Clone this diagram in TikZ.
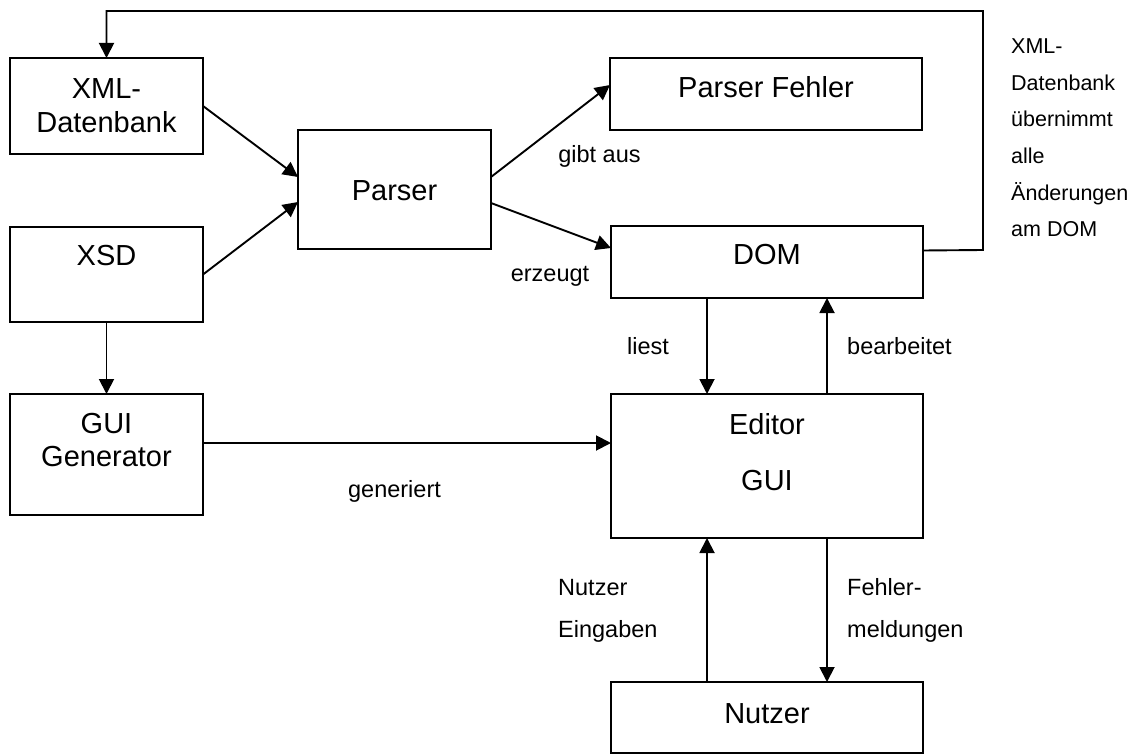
\documentclass[tikz,border=0pt]{standalone}
\usepackage{fontspec}
\setmainfont{Liberation Sans}
\usetikzlibrary{arrows.meta}
\begin{document}
\begin{tikzpicture}[x=1pt,y=-1pt,
  box/.style={draw, line width=1.9pt, inner sep=0pt, outer sep=0pt},
  maintxt/.style={inner sep=0pt, font=\fontsize{29}{34}\selectfont, text height=21pt, text depth=0pt},
  lbl/.style={inner sep=0pt, font=\fontsize{23.5}{28}\selectfont, text height=16.8pt, text depth=0pt},
  side/.style={inner sep=0pt, font=\fontsize{21.5}{26}\selectfont, text height=15.5pt, text depth=0pt, anchor=west},
  conn/.style={line width=1.9pt, -{Triangle[length=15pt,width=15pt]}},
]
\useasboundingbox[fill=white] (0,0) rectangle (1141,754);

% boxes
\node[box, minimum width=193pt, minimum height=96pt]  (xml)    at (106.5,106)   {};
\node[box, minimum width=193pt, minimum height=95pt]  (xsd)    at (106.5,274.5) {};
\node[box, minimum width=193pt, minimum height=121pt] (gui)    at (106.5,454.5) {};
\node[box, minimum width=193pt, minimum height=119pt] (parser) at (394.5,189.5) {};
\node[box, minimum width=312pt, minimum height=72pt]  (fehler) at (766,94)      {};
\node[box, minimum width=312pt, minimum height=72pt]  (dom)    at (767,262)     {};
\node[box, minimum width=312pt, minimum height=144pt] (editor) at (767,466)     {};
\node[box, minimum width=312pt, minimum height=71pt]  (nutzer) at (767,717.5)   {};

% box texts
\node[maintxt] (txml1) at (106.5,88)  {XML-};
\node[maintxt] (txml2) at (106.5,122) {Datenbank};
\node[maintxt] (txsd)  at (106.5,255) {XSD};
\node[maintxt] (tgui1) at (106.5,423) {GUI};
\node[maintxt] (tgui2) at (106.5,456) {Generator};
\node[maintxt] (tpars) at (394.5,190) {Parser};
\node[maintxt] (tfehl) at (766,87)    {Parser Fehler};
\node[maintxt] (tdom)  at (767,254)   {DOM};
\node[maintxt] (ted1)  at (767,424)   {Editor};
\node[maintxt] (ted2)  at (767,480)   {GUI};
\node[maintxt] (tnutz) at (767,713)   {Nutzer};

% connectors
\draw[conn] (xml.east) -- ([yshift=12.5pt]parser.west);
\draw[conn] (xsd.east) -- ([yshift=-12.5pt]parser.west);
\draw[conn] ([yshift=12.5pt]parser.east) -- ([yshift=9pt]fehler.west);
\draw[conn] ([yshift=-13.5pt]parser.east) -- ([yshift=14pt]dom.west);
\draw[conn] (xsd.south) -- (gui.north);
\coordinate (edin) at ([yshift=23pt]editor.west);
\draw[conn] (gui.east |- edin) -- (edin);
\draw[conn] ([xshift=-60pt]dom.south) -- ([xshift=-60pt]editor.north);
\draw[conn] ([xshift=60pt]editor.north) -- ([xshift=60pt]dom.south);
\draw[conn] ([xshift=-60pt]nutzer.north) -- ([xshift=-60pt]editor.south);
\draw[conn] ([xshift=60pt]editor.south) -- ([xshift=60pt]nutzer.north);
\coordinate (fbR) at (983,250);
\coordinate (fbT) at (983,11);
\draw[conn] ([yshift=11.5pt]dom.east) -- (fbR) -- (fbT) -| (xml.north);

% connector labels
\node[lbl] (lgibt) at (599.5,154.5) {gibt aus};
\node[lbl] (lerz)  at (550,273.5)   {erzeugt};
\node[lbl] (lgen)  at (394.5,489)   {generiert};
\node[lbl] (llies) at (648,346)     {liest};
\node[lbl, anchor=west] (lbear) at (847,346) {bearbeitet};
\node[lbl, anchor=west] (lnu1)  at (558,587) {Nutzer};
\node[lbl, anchor=west] (lnu2)  at (558,629) {Eingaben};
\node[lbl, anchor=west] (lfe1)  at (847,587) {Fehler-};
\node[lbl, anchor=west] (lfe2)  at (847,629) {meldungen};

% side note
\node[side] (s1) at (1011,45.7)  {XML-};
\node[side] (s2) at (1011,82.4)  {Datenbank};
\node[side] (s3) at (1011,119.1) {übernimmt};
\node[side] (s4) at (1011,155.8) {alle};
\node[side] (s5) at (1011,192.5) {Änderungen};
\node[side] (s6) at (1011,229.2) {am DOM};
\end{tikzpicture}
\end{document}
